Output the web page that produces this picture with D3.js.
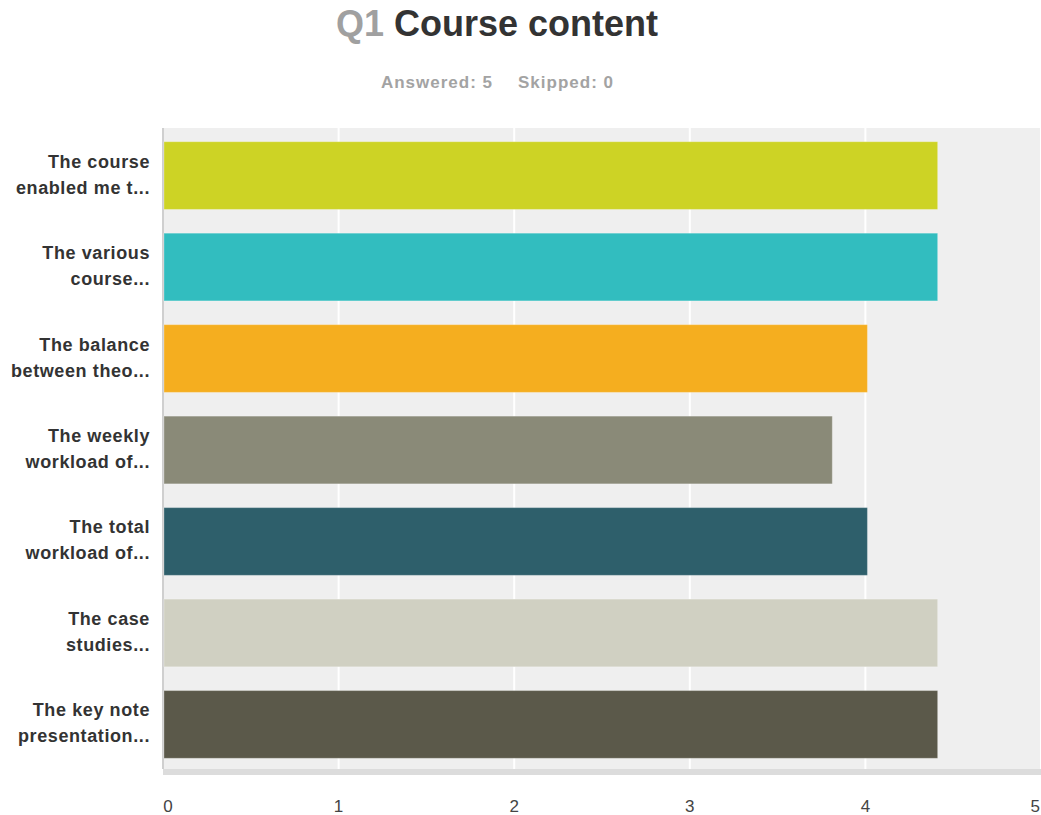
<!DOCTYPE html>
<html>
<head>
<meta charset="utf-8">
<script src="https://cdn.jsdelivr.net/npm/d3@7"></script>
<style>
  body { margin: 0; background: #fff; }
  text { font-family: "Liberation Sans", Arial, sans-serif; }
</style>
</head>
<body>
<div id="chart"></div>
<script>
// chart data
const labels = [
  ["The course", "enabled me t..."],
  ["The various", "course..."],
  ["The balance", "between theo..."],
  ["The weekly", "workload of..."],
  ["The total", "workload of..."],
  ["The case", "studies..."],
  ["The key note", "presentation..."]
];
const values = [4.4, 4.4, 4.0, 3.8, 4.0, 4.4, 4.4];
const colors = ["#cdd325", "#32bdbf", "#f5ae1f", "#8a8a78", "#2e5f6b", "#d0d0c2", "#5b594a"];
const ticks = [0, 1, 2, 3, 4, 5];

const width = 1041, height = 815;
const plotLeft = 163, plotRight = 1041, plotTop = 128, plotBottom = 769;

const svg = d3.select("#chart").append("svg")
    .attr("width", width)
    .attr("height", height);

// title
const title = svg.append("text")
    .attr("x", 497).attr("y", 36)
    .attr("text-anchor", "middle")
    .style("font-weight", "bold")
    .style("font-size", "36px");
title.append("tspan").attr("fill", "#a0a0a0").text("Q1 ");
title.append("tspan").attr("fill", "#333").text("Course content");

const sub = svg.append("text")
    .attr("y", 88)
    .attr("text-anchor", "middle")
    .style("font-weight", "bold")
    .style("font-size", "17px")
    .style("letter-spacing", "1px")
    .attr("fill", "#a3a3a3");
sub.append("tspan").attr("x", 437).text("Answered: 5");
sub.append("tspan").attr("x", 566).text("Skipped: 0");

const x = d3.scaleLinear().domain([0, 5]).range([plotLeft, plotRight]);
const y = d3.scaleBand()
    .domain(d3.range(values.length))
    .range([plotTop, plotBottom + 3])
    .paddingInner(0.26)
    .paddingOuter(0.15);

// plot background
svg.append("rect")
    .attr("x", plotLeft).attr("y", plotTop)
    .attr("width", plotRight - plotLeft).attr("height", plotBottom - plotTop)
    .attr("fill", "#efefef");

// gridlines
svg.selectAll(".grid")
    .data(ticks.slice(1))
    .enter().append("line")
    .attr("x1", d => x(d)).attr("x2", d => x(d))
    .attr("y1", plotTop).attr("y2", plotBottom)
    .attr("stroke", "#fff")
    .attr("stroke-width", 2);

// left axis line
svg.append("line")
    .attr("x1", plotLeft).attr("x2", plotLeft)
    .attr("y1", plotTop).attr("y2", plotBottom)
    .attr("stroke", "#cfcfcf")
    .attr("stroke-width", 2);

// bars
svg.selectAll(".bar")
    .data(values)
    .enter().append("rect")
    .attr("x", x(0) + 1)
    .attr("y", (d, i) => y(i))
    .attr("width", d => x(d) - x(0) + 1)
    .attr("height", y.bandwidth())
    .attr("fill", (d, i) => colors[i])
    .attr("stroke", "rgba(255,255,255,0.25)")
    .attr("stroke-width", 1);

// bottom band
svg.append("rect")
    .attr("x", plotLeft).attr("y", plotBottom)
    .attr("width", plotRight - plotLeft).attr("height", 6)
    .attr("fill", "#dcdcdc");

// category labels
const lab = svg.selectAll(".lab")
    .data(labels)
    .enter().append("text")
    .attr("text-anchor", "end")
    .style("font-weight", "bold")
    .style("font-size", "18px")
    .style("letter-spacing", "0.6px")
    .attr("fill", "#333");
lab.each(function(d, i) {
  const cy = y(i) + y.bandwidth() / 2;
  d3.select(this).selectAll("tspan")
      .data(d)
      .enter().append("tspan")
      .attr("x", 150)
      .attr("y", (t, j) => cy - 8 + j * 26)
      .text(t => t);
});

// x tick labels
svg.selectAll(".tick")
    .data(ticks)
    .enter().append("text")
    .attr("x", d => d === 0 ? x(d) + 5 : (d === 5 ? x(d) - 1 : x(d)))
    .attr("y", 812)
    .attr("text-anchor", d => d === 5 ? "end" : "middle")
    .style("font-size", "17px")
    .attr("fill", "#444")
    .text(d => d);
</script>
</body>
</html>
